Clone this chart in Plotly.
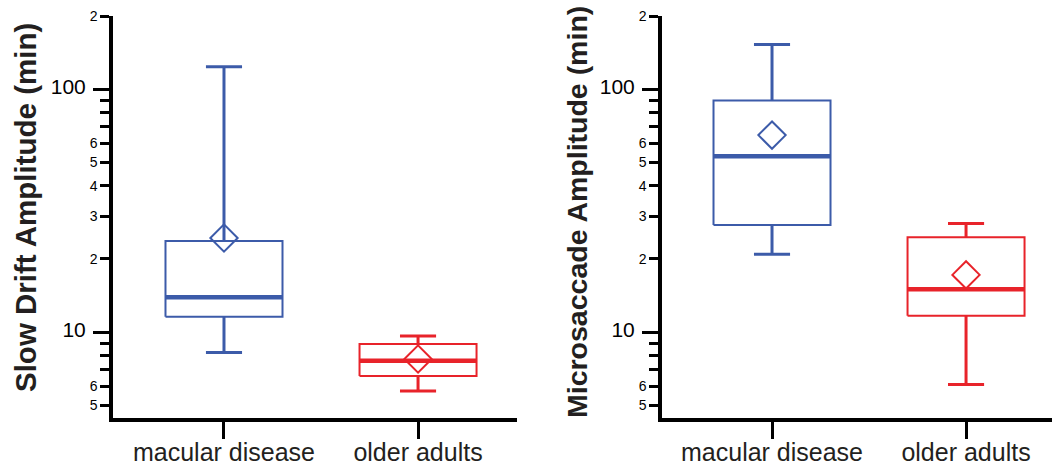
import plotly.graph_objects as go

categories = ["macular disease", "older adults"]
group_colors = ["#3c5ba9", "#e8232a"]

# Slow drift amplitude (min)
drift_low = [8.25, 5.72]
drift_q1 = [11.56, 6.59]
drift_median = [13.9, 7.62]
drift_q3 = [23.7, 8.93]
drift_high = [123.5, 9.63]
drift_mean = [24.4, 7.75]

# Microsaccade amplitude (min)
sacc_low = [20.9, 6.09]
sacc_q1 = [27.6, 11.67]
sacc_median = [52.9, 15.0]
sacc_q3 = [89.9, 24.6]
sacc_high = [152.7, 28.0]
sacc_mean = [64.7, 17.2]

y_tickvals = [5, 6, 7, 8, 9, 10, 20, 30, 40, 50, 60, 70, 80, 90, 100, 200]
y_ticklabels = ["5", "6", "", "", "", "10", "2", "3", "4", "5", "6", "", "", "", "100", "2"]
big_labels = {"10", "100"}

W, H = 1052, 463
BOX_HALF = 0.3015
CAP_HALF = 0.093
FONT = "Liberation Sans, Arial, Helvetica, sans-serif"

fig = go.Figure()


def add_panel(xa, ya, low, q1, med, q3, high, mean):
    for i, col in enumerate(group_colors):
        x0, x1 = i - BOX_HALF, i + BOX_HALF
        # whiskers
        fig.add_trace(go.Scatter(
            x=[i, i, None, i, i, None, i - CAP_HALF, i + CAP_HALF, None, i - CAP_HALF, i + CAP_HALF],
            y=[q3[i], high[i], None, low[i], q1[i], None, high[i], high[i], None, low[i], low[i]],
            mode="lines", line=dict(color=col, width=3), xaxis=xa, yaxis=ya,
            hoverinfo="skip", showlegend=False))
        # box
        fig.add_trace(go.Scatter(
            x=[x0, x1, x1, x0, x0], y=[q1[i], q1[i], q3[i], q3[i], q1[i]],
            mode="lines", line=dict(color=col, width=2), xaxis=xa, yaxis=ya,
            hoverinfo="skip", showlegend=False))
        # median
        fig.add_trace(go.Scatter(
            x=[x0, x1], y=[med[i], med[i]],
            mode="lines", line=dict(color=col, width=4.5), xaxis=xa, yaxis=ya,
            hoverinfo="skip", showlegend=False))
        # mean
        fig.add_trace(go.Scatter(
            x=[i], y=[mean[i]], mode="markers",
            marker=dict(symbol="diamond-open", size=21, color=col, line=dict(color=col, width=2)),
            xaxis=xa, yaxis=ya, hoverinfo="skip", showlegend=False))


add_panel("x", "y", drift_low, drift_q1, drift_median, drift_q3, drift_high, drift_mean)
add_panel("x2", "y2", sacc_low, sacc_q1, sacc_median, sacc_q3, sacc_high, sacc_mean)

ticktext = []
for t in y_ticklabels:
    if t in big_labels:
        ticktext.append('<span style="font-size:21px">' + t + '\u00a0\u00a0</span>')
    else:
        ticktext.append(t)

ydom = [(H - 418) / H, (H - 16) / H]

yaxis_common = dict(
    type="log", range=[0.6465, 2.30103], domain=ydom, automargin=False,
    tickmode="array", tickvals=y_tickvals, ticktext=ticktext,
    ticks="outside", ticklen=9, tickwidth=3, tickcolor="black",
    showline=True, linewidth=3.5, linecolor="black",
    showgrid=False, zeroline=False,
    tickfont=dict(family=FONT, size=14, color="black"),
    minor=dict(tickmode="array", tickvals=[10, 100], ticklen=16, tickwidth=3,
               tickcolor="black", ticks="outside", showgrid=False),
)

xaxis_common = dict(
    tickmode="array", tickvals=[0, 1], ticktext=categories, automargin=False,
    ticks="outside", ticklen=17, tickwidth=3, tickcolor="black",
    showline=True, linewidth=3.5, linecolor="black",
    showgrid=False, zeroline=False,
    tickfont=dict(family=FONT, size=25, color="#231f20"),
    ticklabelstandoff=-8,
)

fig.update_layout(
    width=W, height=H,
    margin=dict(l=0, r=0, t=0, b=0, autoexpand=False),
    paper_bgcolor="white", plot_bgcolor="white",
    showlegend=False,
    xaxis=dict(xaxis_common, domain=[113 / W, 517 / W], range=[-0.572, 1.510], anchor="y"),
    yaxis=dict(yaxis_common, anchor="x"),
    xaxis2=dict(xaxis_common, domain=[662 / W, 1.0], range=[-0.567, 1.443], anchor="y2"),
    yaxis2=dict(yaxis_common, anchor="x2"),
    annotations=[
        dict(text="<b>Slow Drift Amplitude (min)</b>", x=25 / W, y=(H - 208) / H,
             xref="paper", yref="paper", textangle=-90, showarrow=False,
             xanchor="center", yanchor="middle",
             font=dict(family=FONT, size=29.5, color="#231f20")),
        dict(text="<b>Microsaccade Amplitude (min)</b>", x=577 / W, y=(H - 212) / H,
             xref="paper", yref="paper", textangle=-90, showarrow=False,
             xanchor="center", yanchor="middle",
             font=dict(family=FONT, size=28.5, color="#231f20")),
    ],
)

fig.write_html("out.html", config={"displayModeBar": False},
               post_script="document.body.style.margin='0';document.body.style.overflow='hidden';")
